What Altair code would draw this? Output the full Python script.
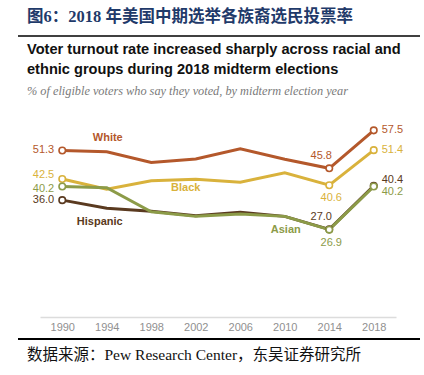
import altair as alt
import pandas as pd

# ---- data ----
years = [1990, 1994, 1998, 2002, 2006, 2010, 2014, 2018]
groups = ["White", "Black", "Hispanic", "Asian"]
white = [51.3, 50.9, 47.6, 48.7, 51.8, 48.6, 45.8, 57.5]
black = [42.5, 39.4, 42.0, 42.4, 41.5, 44.4, 40.6, 51.4]
hispanic = [36.0, 33.5, 32.6, 31.2, 32.3, 31.0, 27.0, 40.4]
asian = [40.2, 39.8, 32.4, 31.0, 31.7, 31.0, 26.9, 40.2]
colors = ["#b4582b", "#d9b23c", "#5a3a20", "#8c9b48"]

cn_title = "图6：2018 年美国中期选举各族裔选民投票率"
title1 = "Voter turnout rate increased sharply across racial and"
title2 = "ethnic groups during 2018 midterm elections"
subtitle = "% of eligible voters who say they voted, by midterm election year"
source = "数据来源：Pew Research Center，东吴证券研究所"

series = {"White": white, "Black": black, "Hispanic": hispanic, "Asian": asian}
rows = []
for g in groups:
    for y, v in zip(years, series[g]):
        rows.append({"group": g, "year": y, "value": v, "label": f"{v:.1f}"})
df = pd.DataFrame(rows)

SANS = "Liberation Sans"
cscale = alt.Scale(domain=groups, range=colors)

x = alt.X("year:Q", scale=alt.Scale(domain=[1988, 2020]),
          axis=alt.Axis(values=years, format="d", grid=False, ticks=False,
                        domainColor="#dcdcdc", domainWidth=1.5,
                        labelColor="#909090", labelFontSize=11, labelFont=SANS,
                        labelPadding=4, title=None))
y = alt.Y("value:Q", scale=alt.Scale(domain=[0, 65]), axis=None)
col = alt.Color("group:N", scale=cscale, legend=None)

base = alt.Chart(df).encode(x=x, y=y)

lines = base.mark_line(strokeWidth=3).encode(color=col, detail="group:N")
dots = base.transform_filter(
    alt.FieldOneOfPredicate(field="year", oneOf=[1990, 2014, 2018])
).mark_circle(fill="white", fillOpacity=1, strokeWidth=1.6, size=42, opacity=1).encode(
    stroke=alt.Stroke("group:N", scale=cscale, legend=None))


def vlabel(cond, **kw):
    return base.transform_filter(cond).mark_text(
        font=SANS, fontSize=11, baseline="middle", **kw
    ).encode(text="label:N", color=col)


yr = alt.datum.year
g = alt.datum.group
lab_1990 = vlabel((yr == 1990) & ((g == "White") | (g == "Hispanic")), align="right", dx=-8)
lab_1990_b = vlabel((yr == 1990) & (g == "Black"), align="right", dx=-8, dy=-4)
lab_1990_a = vlabel((yr == 1990) & (g == "Asian"), align="right", dx=-8, dy=2)
lab_2014_up = vlabel((yr == 2014) & ((g == "White") | (g == "Hispanic")), align="center", dx=-8, dy=-12)
lab_2014_dn = vlabel((yr == 2014) & ((g == "Black") | (g == "Asian")), align="center", dx=2, dy=13)
lab_2018 = vlabel((yr == 2018) & ((g == "White") | (g == "Black")), align="left", dx=8)
lab_2018_h = vlabel((yr == 2018) & (g == "Hispanic"), align="left", dx=8, dy=-6)
lab_2018_a = vlabel((yr == 2018) & (g == "Asian"), align="left", dx=8, dy=5)


def slabel(group, year, dx, dy):
    return base.transform_filter((yr == year) & (g == group)).mark_text(
        font=SANS, fontSize=11, fontWeight="bold", baseline="middle", align="center",
        dx=dx, dy=dy
    ).encode(text="group:N", color=col)


s_white = slabel("White", 1994, 1, -14)
s_black = slabel("Black", 2002, -10, 9)
s_hisp = slabel("Hispanic", 1994, -7, 14)
s_asian = slabel("Asian", 2010, 1, 14)


def txt(t, xv, yv, **kw):
    return alt.Chart(pd.DataFrame({"t": [t]})).mark_text(
        align="left", baseline="middle", **kw
    ).encode(x=alt.value(xv), y=alt.value(yv), text="t:N")


def hrule(yv, w):
    return alt.Chart(pd.DataFrame({"a": [0]})).mark_rule(color="black", strokeWidth=w).encode(
        x=alt.value(-22), x2=alt.value(380), y=alt.value(yv))


t_cn = txt(cn_title, -13, -89, font="Liberation Serif, Noto Sans CJK SC", fontSize=16.5,
           fontWeight="bold", color="#1f3a6a")
r_top = hrule(-70, 1.6)
t1 = txt(title1, -13, -56, font=SANS, fontSize=14.6, fontWeight="bold", color="#111111")
t2 = txt(title2, -13, -36, font=SANS, fontSize=14.6, fontWeight="bold", color="#111111")
t_sub = txt(subtitle, -13, -15, font="Liberation Serif", fontSize=12.3, fontStyle="italic",
            color="#7a7a7a")
r_bot = hrule(233, 2.2)
t_src = txt(source, -13, 249, font="Liberation Serif, Noto Sans CJK SC", fontSize=15.5,
            color="#111111")

chart = alt.layer(
    lines, dots, lab_1990, lab_1990_b, lab_1990_a, lab_2014_up, lab_2014_dn,
    lab_2018, lab_2018_h, lab_2018_a,
    s_white, s_black, s_hisp, s_asian,
    t_cn, r_top, t1, t2, t_sub, r_bot, t_src
).properties(
    width=356, height=211,
    autosize=alt.AutoSizeParams(type="none"),
    padding={"left": 40, "top": 106, "right": 28, "bottom": 58},
    background="white",
).configure_view(strokeWidth=0)

chart.save("out.html", embed_options={"renderer": "svg", "actions": False})
